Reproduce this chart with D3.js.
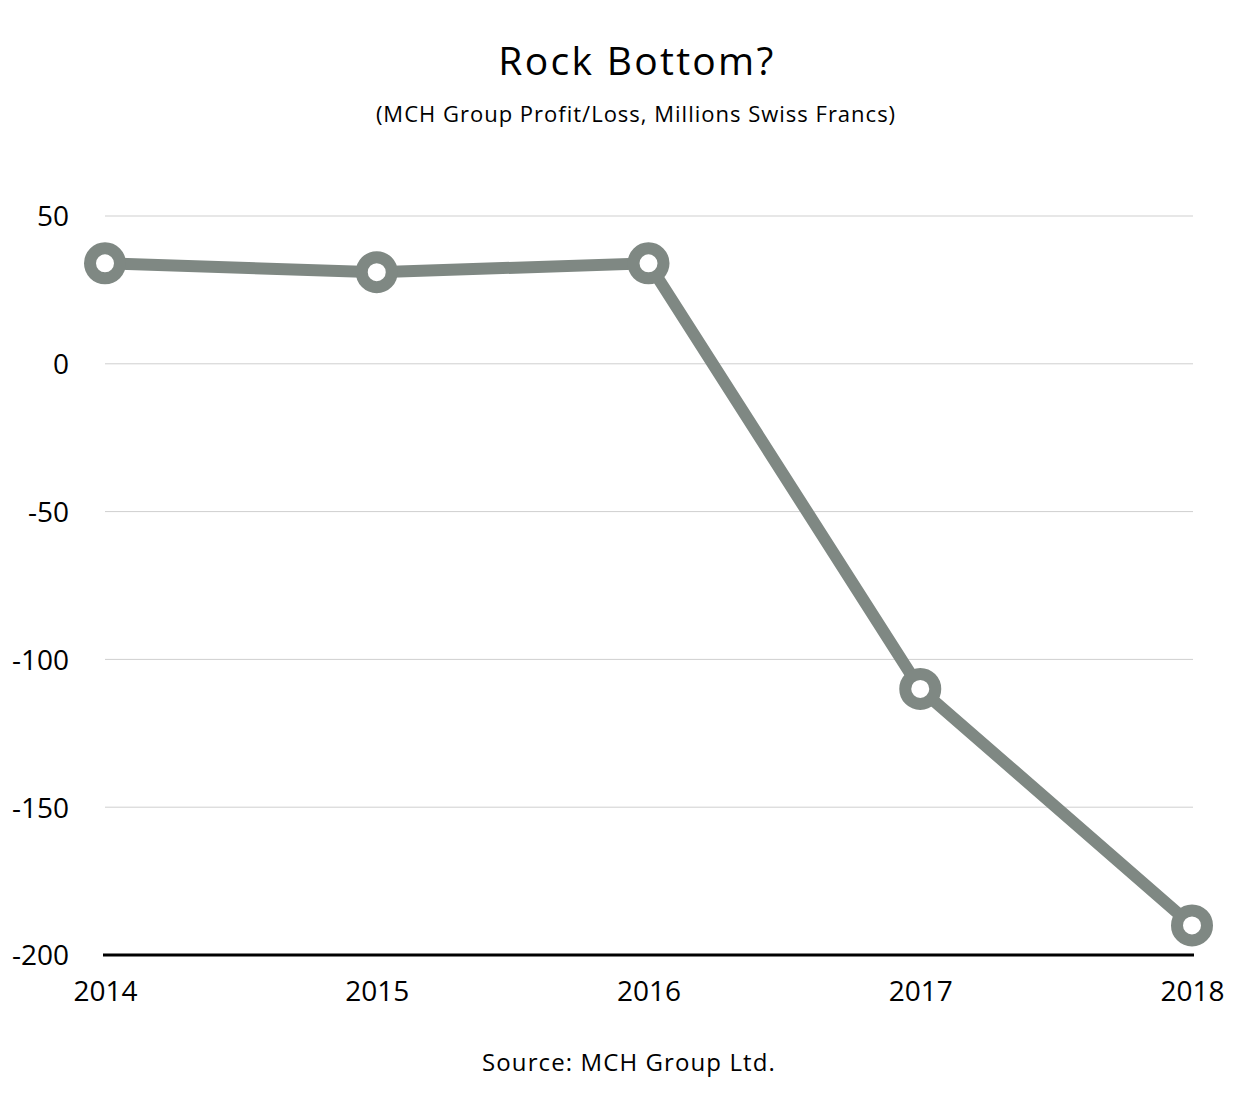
<!DOCTYPE html>
<html><head><meta charset="utf-8">
<script src="https://cdn.jsdelivr.net/npm/d3@7"></script>
<style>body{margin:0;background:#fff;} svg{display:block;} text{font-family:"Open Sans","Noto Sans",sans-serif;fill:#000;}</style>
</head><body>
<svg id="c" width="1256" height="1099"></svg>
<script>
const years = [2014, 2015, 2016, 2017, 2018];
const profit = [34, 31, 34, -110, -190];
const yTicks = [50, 0, -50, -100, -150, -200];

const svg = d3.select("#c");
const x = d3.scalePoint().domain(years).range([105, 1192]);
const y = d3.scaleLinear().domain([-200, 50]).range([955, 216]);

svg.append("text").attr("x", 637).attr("y", 75).attr("text-anchor", "middle")
  .style("font-size", "39px").style("letter-spacing", "2.3px").text("Rock Bottom?");
svg.append("text").attr("x", 636).attr("y", 122).attr("text-anchor", "middle")
  .style("font-size", "22px").style("letter-spacing", "1px").text("(MCH Group Profit/Loss, Millions Swiss Francs)");
svg.append("text").attr("x", 629).attr("y", 1071).attr("text-anchor", "middle")
  .style("font-size", "24px").style("letter-spacing", "1.1px").text("Source: MCH Group Ltd.");

// grid
svg.append("g").selectAll("line").data(yTicks.filter(d => d !== -200)).join("line")
  .attr("x1", 105).attr("x2", 1193).attr("y1", d => y(d)).attr("y2", d => y(d))
  .attr("stroke", "#cfcfcf").attr("stroke-width", 1);
svg.append("line").attr("x1", 103).attr("x2", 1194).attr("y1", y(-200)).attr("y2", y(-200))
  .attr("stroke", "#000").attr("stroke-width", 3);

const yAxis = d3.axisLeft(y).tickValues(yTicks).tickSize(0).tickPadding(0).tickFormat(d => String(d));
const ga = svg.append("g").attr("transform", "translate(69,0)").call(yAxis);
ga.select(".domain").remove();
ga.selectAll("text").style("font-size", "28px").attr("dy", "0.35em").style("font-family", '"Open Sans","Noto Sans",sans-serif');

const xAxis = d3.axisBottom(x).tickSize(0).tickPadding(0).tickFormat(d => String(d));
const gx = svg.append("g").attr("transform", "translate(0,981)").call(xAxis);
gx.select(".domain").remove();
gx.selectAll("text").style("font-size", "28px").attr("dy", "0.71em").style("font-family", '"Open Sans","Noto Sans",sans-serif');

const pts = years.map((yr, i) => ({yr, v: profit[i]}));
svg.append("path").datum(pts)
  .attr("d", d3.line().x(d => x(d.yr)).y(d => y(d.v)))
  .attr("fill", "none").attr("stroke", "#7f8883").attr("stroke-width", 12);
svg.append("g").selectAll("circle").data(pts).join("circle")
  .attr("cx", d => x(d.yr)).attr("cy", d => y(d.v)).attr("r", 15)
  .attr("fill", "#fff").attr("stroke", "#7f8883").attr("stroke-width", 12);
</script>
</body></html>
